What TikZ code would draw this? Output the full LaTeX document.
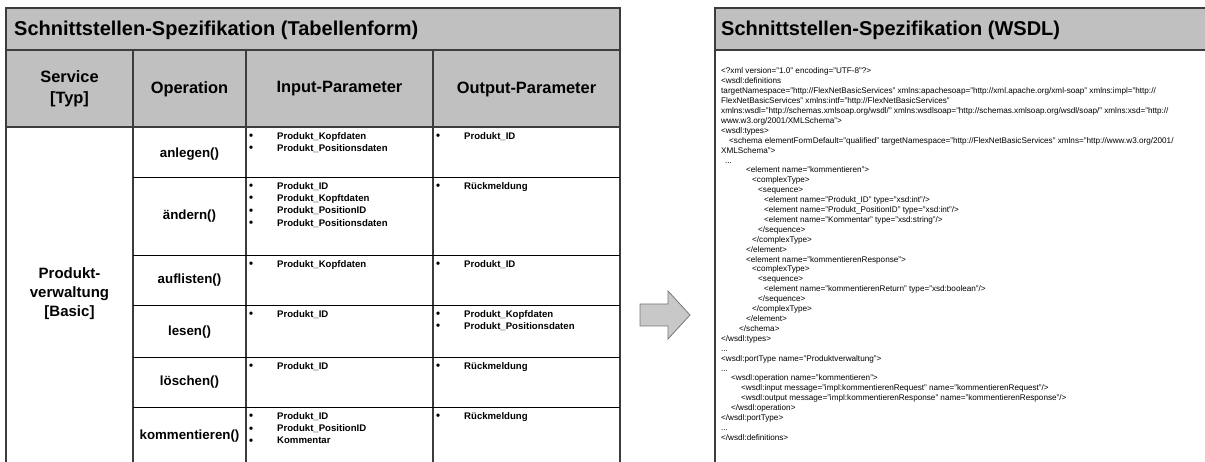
\documentclass[tikz,border=0pt]{standalone}
\usepackage{fontspec}
\setmainfont{Liberation Sans}

\definecolor{headgray}{RGB}{192,192,192}
\definecolor{framegray}{RGB}{60,60,60}
\definecolor{arrowfill}{RGB}{200,200,200}
\definecolor{arrowline}{RGB}{120,120,120}

% one bullet entry of a parameter list
\newcommand\itm[1]{\makebox[28pt][l]{\raisebox{-0.3pt}{\fontsize{11.5}{12}\selectfont\textbullet}}#1}

\tikzset{
  frame/.style={draw=framegray, line width=1.4pt},
  rowrule/.style={draw=black, line width=0.9pt},
  paneltitle/.style={font=\fontsize{20}{24}\selectfont\bfseries, anchor=base west, inner sep=0pt},
  colhead/.style={font=\fontsize{16.4}{21.5}\selectfont\bfseries, align=center, inner sep=0pt},
  svcname/.style={font=\fontsize{15}{19}\selectfont\bfseries, align=center, inner sep=0pt},
  opname/.style={font=\fontsize{13.3}{16}\selectfont\bfseries, inner sep=0pt},
  param/.style={font=\fontsize{9.6}{12}\selectfont\bfseries, anchor=base west, inner sep=0pt},
  wsdl/.style={font=\fontsize{8.15}{9.9}\selectfont, anchor=base west, inner sep=0pt},
  blockarrow/.style={fill=arrowfill, draw=arrowline, line width=0.8pt, line join=miter}
}

% one line of the WSDL listing: number, indent, text
\newcommand\wline[3]{\node[wsdl] (w#1) at ({721+#2},{74+9.9*(#1-1)}) {#3};}
% one parameter entry: name, x, row top, position in list, text
\newcommand\prm[5]{\node[param] (#1) at (#2,{#3+12.5+12.2*(#4-1)}) {\itm{#5}};}

\begin{document}
\begin{tikzpicture}[x=1pt,y=-1pt]
\useasboundingbox (0,0) rectangle (1205,462);

% ---------------- table form ----------------
\fill[headgray] (6,8) rectangle (620,127);
\draw[frame] (6,463) -- (6,8) -- (620,8) -- (620,463);
\draw[frame] (6,50) -- (620,50);
\draw[frame] (6,127) -- (620,127);
\foreach \cx in {133,246,433} \draw[frame] (\cx,50) -- (\cx,463);
\foreach \ry in {177,255,305,357,407} \draw[rowrule] (133,\ry) -- (620,\ry);

\node[paneltitle] (ttab) at (14,36) {Schnittstellen-Spezifikation (Tabellenform)};

\node[colhead] (hsvc) at (69.5,89) {Service\\{[}Typ{]}};
\node[colhead] (hop)  at (189.5,89) {Operation};
\node[colhead] (hin)  at (339.5,89) {Input-Parameter};
\node[colhead] (hout) at (526.5,89) {Output-Parameter};

\node[svcname] (svc) at (69.5,294) {Produkt-\\verwaltung\\{[}Basic{]}};

\node[opname] (op1) at (189.5,154)   {anlegen()};
\node[opname] (op2) at (189.5,216.5) {ändern()};
\node[opname] (op3) at (189.5,280)   {auflisten()};
\node[opname] (op4) at (189.5,332)   {lesen()};
\node[opname] (op5) at (189.5,382)   {löschen()};
\node[opname] (op6) at (189.5,436)   {kommentieren()};

% anlegen()
\prm{i11}{249}{127}{1}{Produkt\_Kopfdaten}
\prm{i12}{249}{127}{2}{Produkt\_Positionsdaten}
\prm{o11}{436}{127}{1}{Produkt\_ID}
% ändern()
\prm{i21}{249}{177}{1}{Produkt\_ID}
\prm{i22}{249}{177}{2}{Produkt\_Kopftdaten}
\prm{i23}{249}{177}{3}{Produkt\_PositionID}
\prm{i24}{249}{177}{4}{Produkt\_Positionsdaten}
\prm{o21}{436}{177}{1}{Rückmeldung}
% auflisten()
\prm{i31}{249}{255}{1}{Produkt\_Kopfdaten}
\prm{o31}{436}{255}{1}{Produkt\_ID}
% lesen()
\prm{i41}{249}{305}{1}{Produkt\_ID}
\prm{o41}{436}{305}{1}{Produkt\_Kopfdaten}
\prm{o42}{436}{305}{2}{Produkt\_Positionsdaten}
% löschen()
\prm{i51}{249}{357}{1}{Produkt\_ID}
\prm{o51}{436}{357}{1}{Rückmeldung}
% kommentieren()
\prm{i61}{249}{407}{1}{Produkt\_ID}
\prm{i62}{249}{407}{2}{Produkt\_PositionID}
\prm{i63}{249}{407}{3}{Kommentar}
\prm{o61}{436}{407}{1}{Rückmeldung}

% ---------------- transformation arrow ----------------
\draw[blockarrow] (640,304) -- (668,304) -- (668,291) -- (690,315)
  -- (668,339) -- (668,326) -- (640,326) -- cycle;

% ---------------- WSDL form ----------------
\fill[headgray] (715,8) rectangle (1206,50);
\draw[frame] (1206,8) -- (715,8) -- (715,463);
\draw[frame] (715,50) -- (1206,50);
\node[paneltitle] (twsdl) at (721,36) {Schnittstellen-Spezifikation (WSDL)};

\wline{1}{0}{<?xml version="1.0" encoding="UTF-8"?>}
\wline{2}{0}{<wsdl:definitions}
\wline{3}{0}{targetNamespace="http://FlexNetBasicServices" xmlns:apachesoap="http://xml.apache.org/xml-soap" xmlns:impl="http://}
\wline{4}{0}{FlexNetBasicServices" xmlns:intf="http://FlexNetBasicServices"}
\wline{5}{0}{xmlns:wsdl="http://schemas.xmlsoap.org/wsdl/" xmlns:wsdlsoap="http://schemas.xmlsoap.org/wsdl/soap/" xmlns:xsd="http://}
\wline{6}{0}{www.w3.org/2001/XMLSchema">}
\wline{7}{0}{<wsdl:types>}
\wline{8}{8}{<schema elementFormDefault="qualified" targetNamespace="http://FlexNetBasicServices" xmlns="http://www.w3.org/2001/}
\wline{9}{0}{XMLSchema">}
\wline{10}{4}{...}
\wline{11}{25}{<element name="kommentieren">}
\wline{12}{31}{<complexType>}
\wline{13}{37}{<sequence>}
\wline{14}{43}{<element name="Produkt\_ID" type="xsd:int"/>}
\wline{15}{43}{<element name="Produkt\_PositionID" type="xsd:int"/>}
\wline{16}{43}{<element name="Kommentar" type="xsd:string"/>}
\wline{17}{37}{</sequence>}
\wline{18}{31}{</complexType>}
\wline{19}{25}{</element>}
\wline{20}{25}{<element name="kommentierenResponse">}
\wline{21}{31}{<complexType>}
\wline{22}{37}{<sequence>}
\wline{23}{43}{<element name="kommentierenReturn" type="xsd:boolean"/>}
\wline{24}{37}{</sequence>}
\wline{25}{31}{</complexType>}
\wline{26}{25}{</element>}
\wline{27}{18}{</schema>}
\wline{28}{0}{</wsdl:types>}
\wline{29}{0}{...}
\wline{30}{0}{<wsdl:portType name="Produktverwaltung">}
\wline{31}{0}{...}
\wline{32}{10}{<wsdl:operation name="kommentieren">}
\wline{33}{20}{<wsdl:input message="impl:kommentierenRequest" name="kommentierenRequest"/>}
\wline{34}{20}{<wsdl:output message="impl:kommentierenResponse" name="kommentierenResponse"/>}
\wline{35}{10}{</wsdl:operation>}
\wline{36}{0}{</wsdl:portType>}
\wline{37}{0}{...}
\wline{38}{0}{</wsdl:definitions>}

\end{tikzpicture}
\end{document}
